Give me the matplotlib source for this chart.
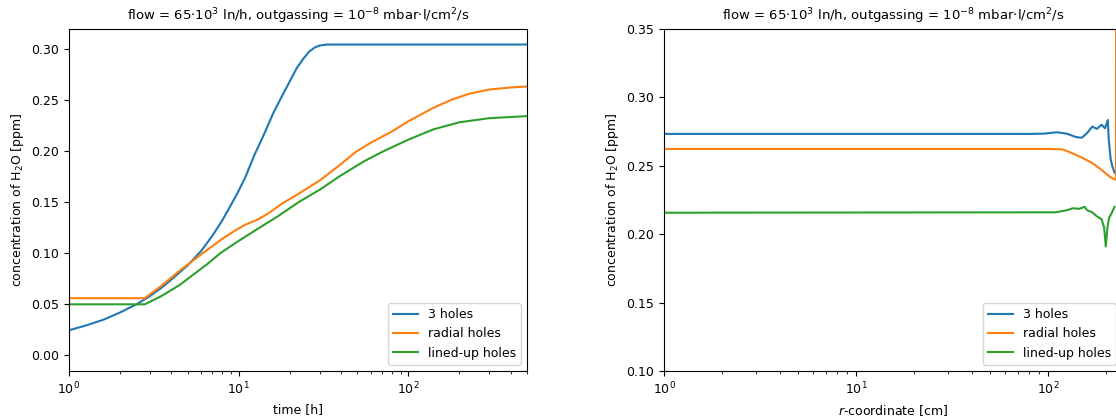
import numpy as np
import matplotlib
matplotlib.use("Agg")
from matplotlib import pyplot as plt

# left panel: concentration vs time
t_3holes = [1, 1.3, 1.6, 2, 2.5, 3, 3.5, 4, 5, 6, 7, 8, 9, 10, 11, 12.3, 14, 16, 17.8,
            20, 22, 24, 26, 28, 30, 33, 40, 100, 500]
c_3holes = [0.0246, 0.030, 0.035, 0.042, 0.050, 0.058, 0.066, 0.074, 0.088, 0.102, 0.117,
            0.132, 0.147, 0.161, 0.175, 0.195, 0.215, 0.237, 0.252, 0.268, 0.281, 0.290,
            0.297, 0.301, 0.303, 0.304, 0.304, 0.304, 0.304]

t_radial = [1, 2.8, 3.5, 4.5, 5.5, 6.5, 8, 9.5, 11, 13, 15, 17.8, 22, 30, 40, 49, 60,
            80, 100, 140, 179, 230, 300, 400, 500]
c_radial = [0.056, 0.056, 0.068, 0.083, 0.094, 0.103, 0.114, 0.122, 0.128, 0.133, 0.139,
            0.148, 0.157, 0.171, 0.187, 0.199, 0.208, 0.219, 0.229, 0.242, 0.250, 0.256,
            0.260, 0.262, 0.263]

t_linedup = [1, 2.8, 3.5, 4.5, 5.5, 6.5, 7.8, 10, 13, 17, 22.6, 30, 40, 55, 72, 100, 140,
             200, 300, 500]
c_linedup = [0.050, 0.050, 0.058, 0.069, 0.080, 0.089, 0.100, 0.112, 0.124, 0.136, 0.150,
             0.162, 0.176, 0.190, 0.200, 0.211, 0.221, 0.228, 0.232, 0.234]

# right panel: concentration vs r
r_3holes = [1, 80, 95, 111, 125, 140, 150, 160, 170, 180, 190, 198, 205, 207, 212, 216, 222]
cr_3holes = [0.2733, 0.2733, 0.2735, 0.2745, 0.2735, 0.271, 0.2705, 0.274, 0.2786, 0.277,
             0.280, 0.2775, 0.2835, 0.27, 0.255, 0.25, 0.245]

r_radial = [1, 100, 119, 135, 150, 170, 190, 210, 222, 226, 226.3]
cr_radial = [0.2623, 0.2623, 0.262, 0.259, 0.256, 0.252, 0.247, 0.242, 0.24, 0.24, 0.40]

r_linedup = [1, 110, 125, 135, 145, 155, 160, 170, 180, 190, 196, 200, 204, 208, 214, 222]
cr_linedup = [0.2157, 0.2160, 0.2175, 0.219, 0.2185, 0.220, 0.2175, 0.216, 0.213, 0.211,
              0.205, 0.191, 0.205, 0.212, 0.215, 0.22]

labels = ["3 holes", "radial holes", "lined-up holes"]
title = r"flow = 65$\cdot$10$^3$ ln/h, outgassing = 10$^{-8}$ mbar$\cdot$l/cm$^2$/s"

plt.rcParams['font.size'] = 9

fig = plt.figure(figsize=(11.16, 4.19), dpi=100)
ax1 = fig.add_axes([0.0618, 0.1146, 0.4104, 0.8162])
ax2 = fig.add_axes([0.595, 0.1146, 0.4104, 0.8162])

ax1.semilogx(t_3holes, c_3holes, label=labels[0])
ax1.semilogx(t_radial, c_radial, label=labels[1])
ax1.semilogx(t_linedup, c_linedup, label=labels[2])
ax1.set_xlim(1, 500)
ax1.set_ylim(-0.0152, 0.3192)
ax1.set_xlabel("time [h]")
ax1.set_ylabel(r"concentration of H$_2$O [ppm]")
ax1.set_title(title, fontsize=9.5)
ax1.legend(loc='lower right')

ax2.semilogx(r_3holes, cr_3holes, label=labels[0])
ax2.semilogx(r_radial, cr_radial, label=labels[1])
ax2.semilogx(r_linedup, cr_linedup, label=labels[2])
ax2.set_xlim(1, 243)
ax2.set_ylim(0.10, 0.35)
ax2.set_xlabel(r"$r$-coordinate [cm]")
ax2.set_ylabel(r"concentration of H$_2$O [ppm]")
ax2.set_title(title, fontsize=9.5)
ax2.legend(loc='lower right')

fig.savefig("out.png", dpi=100)
